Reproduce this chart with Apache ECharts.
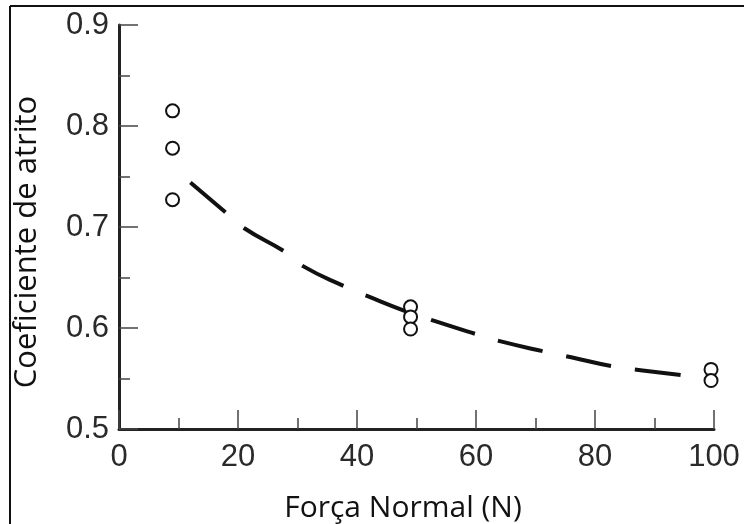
<!DOCTYPE html>
<html>
<head>
<meta charset="utf-8">
<script src="https://cdn.jsdelivr.net/npm/echarts@6/dist/echarts.min.js"></script>
<style>html,body{margin:0;padding:0;background:#fff;}#c{width:744px;height:524px;}</style>
</head>
<body>
<div id="c"></div>
<script>
// Measured points (Força Normal N, Coeficiente de atrito)
var forceN = [9, 9, 9, 49, 49, 49, 99.5, 99.5];
var coef = [0.815, 0.778, 0.727, 0.621, 0.611, 0.599, 0.559, 0.548];
// Dashed trend curve read along its path
var curveX = [12, 18, 21, 28, 31, 38, 42, 48, 53, 60, 64, 72, 76, 83, 88, 95];
var curveY = [0.744, 0.714, 0.699, 0.675, 0.661, 0.641, 0.631, 0.617, 0.607, 0.594, 0.587, 0.576, 0.571, 0.562, 0.558, 0.553];
var xTicks = [0, 20, 40, 60, 80, 100];
var yTicks = [0.5, 0.6, 0.7, 0.8, 0.9];

var chart = echarts.init(document.getElementById('c'), null, {renderer: 'canvas'});
var tickFont = 'Liberation Sans, Arial, sans-serif';
var titleFont = 'Open Sans, sans-serif';

chart.setOption({
  animation: false,
  backgroundColor: '#ffffff',
  grid: {left: 119, top: 25, right: 30, bottom: 95, containLabel: false, outerBoundsMode: 'none'},
  graphic: [
    {type: 'line', shape: {x1: 10, y1: 6, x2: 744, y2: 6}, style: {stroke: '#111', lineWidth: 2}},
    {type: 'line', shape: {x1: 10, y1: 6, x2: 10, y2: 524}, style: {stroke: '#111', lineWidth: 2}}
  ],
  xAxis: {
    type: 'value', min: xTicks[0], max: xTicks[xTicks.length - 1], interval: 20,
    name: 'Força Normal (N)', nameLocation: 'middle', nameGap: 64,
    nameTextStyle: {fontFamily: titleFont, fontSize: 30, color: '#111', padding: [0, 27, 0, 0]},
    axisLine: {show: true, lineStyle: {color: '#222', width: 3}},
    axisTick: {show: true, inside: true, length: 19, lineStyle: {color: '#444', width: 1.5}},
    minorTick: {show: true, splitNumber: 2, length: 11, lineStyle: {color: '#444', width: 1.5}},
    splitLine: {show: false},
    axisLabel: {fontFamily: tickFont, fontSize: 31, color: '#2a2a2a', margin: 13}
  },
  yAxis: {
    type: 'value', min: yTicks[0], max: yTicks[yTicks.length - 1], interval: 0.1,
    name: 'Coeficiente de atrito', nameLocation: 'middle', nameGap: 76, nameRotate: 90,
    nameTextStyle: {fontFamily: titleFont, fontSize: 31, color: '#111', padding: [0, 30, 0, 0]},
    axisLine: {show: true, lineStyle: {color: '#222', width: 3}},
    axisTick: {show: true, inside: true, length: 19, lineStyle: {color: '#444', width: 1.5}},
    minorTick: {show: true, splitNumber: 2, length: 11, lineStyle: {color: '#444', width: 1.5}},
    splitLine: {show: false},
    axisLabel: {fontFamily: tickFont, fontSize: 31, color: '#2a2a2a', margin: 10,
      formatter: function (v) { return v.toFixed(1); }}
  },
  series: [
    {
      type: 'line', smooth: true, symbol: 'none',
      data: curveX.map(function (x, i) { return [x, curveY[i]]; }),
      lineStyle: {color: '#111', width: 4, type: [46, 24], cap: 'butt'},
      z: 2
    },
    {
      type: 'scatter', symbol: 'circle', symbolSize: 13,
      data: forceN.map(function (x, i) { return [x, coef[i]]; }),
      itemStyle: {color: '#ffffff', borderColor: '#111', borderWidth: 2, opacity: 1},
      z: 3
    }
  ]
});
</script>
</body>
</html>
